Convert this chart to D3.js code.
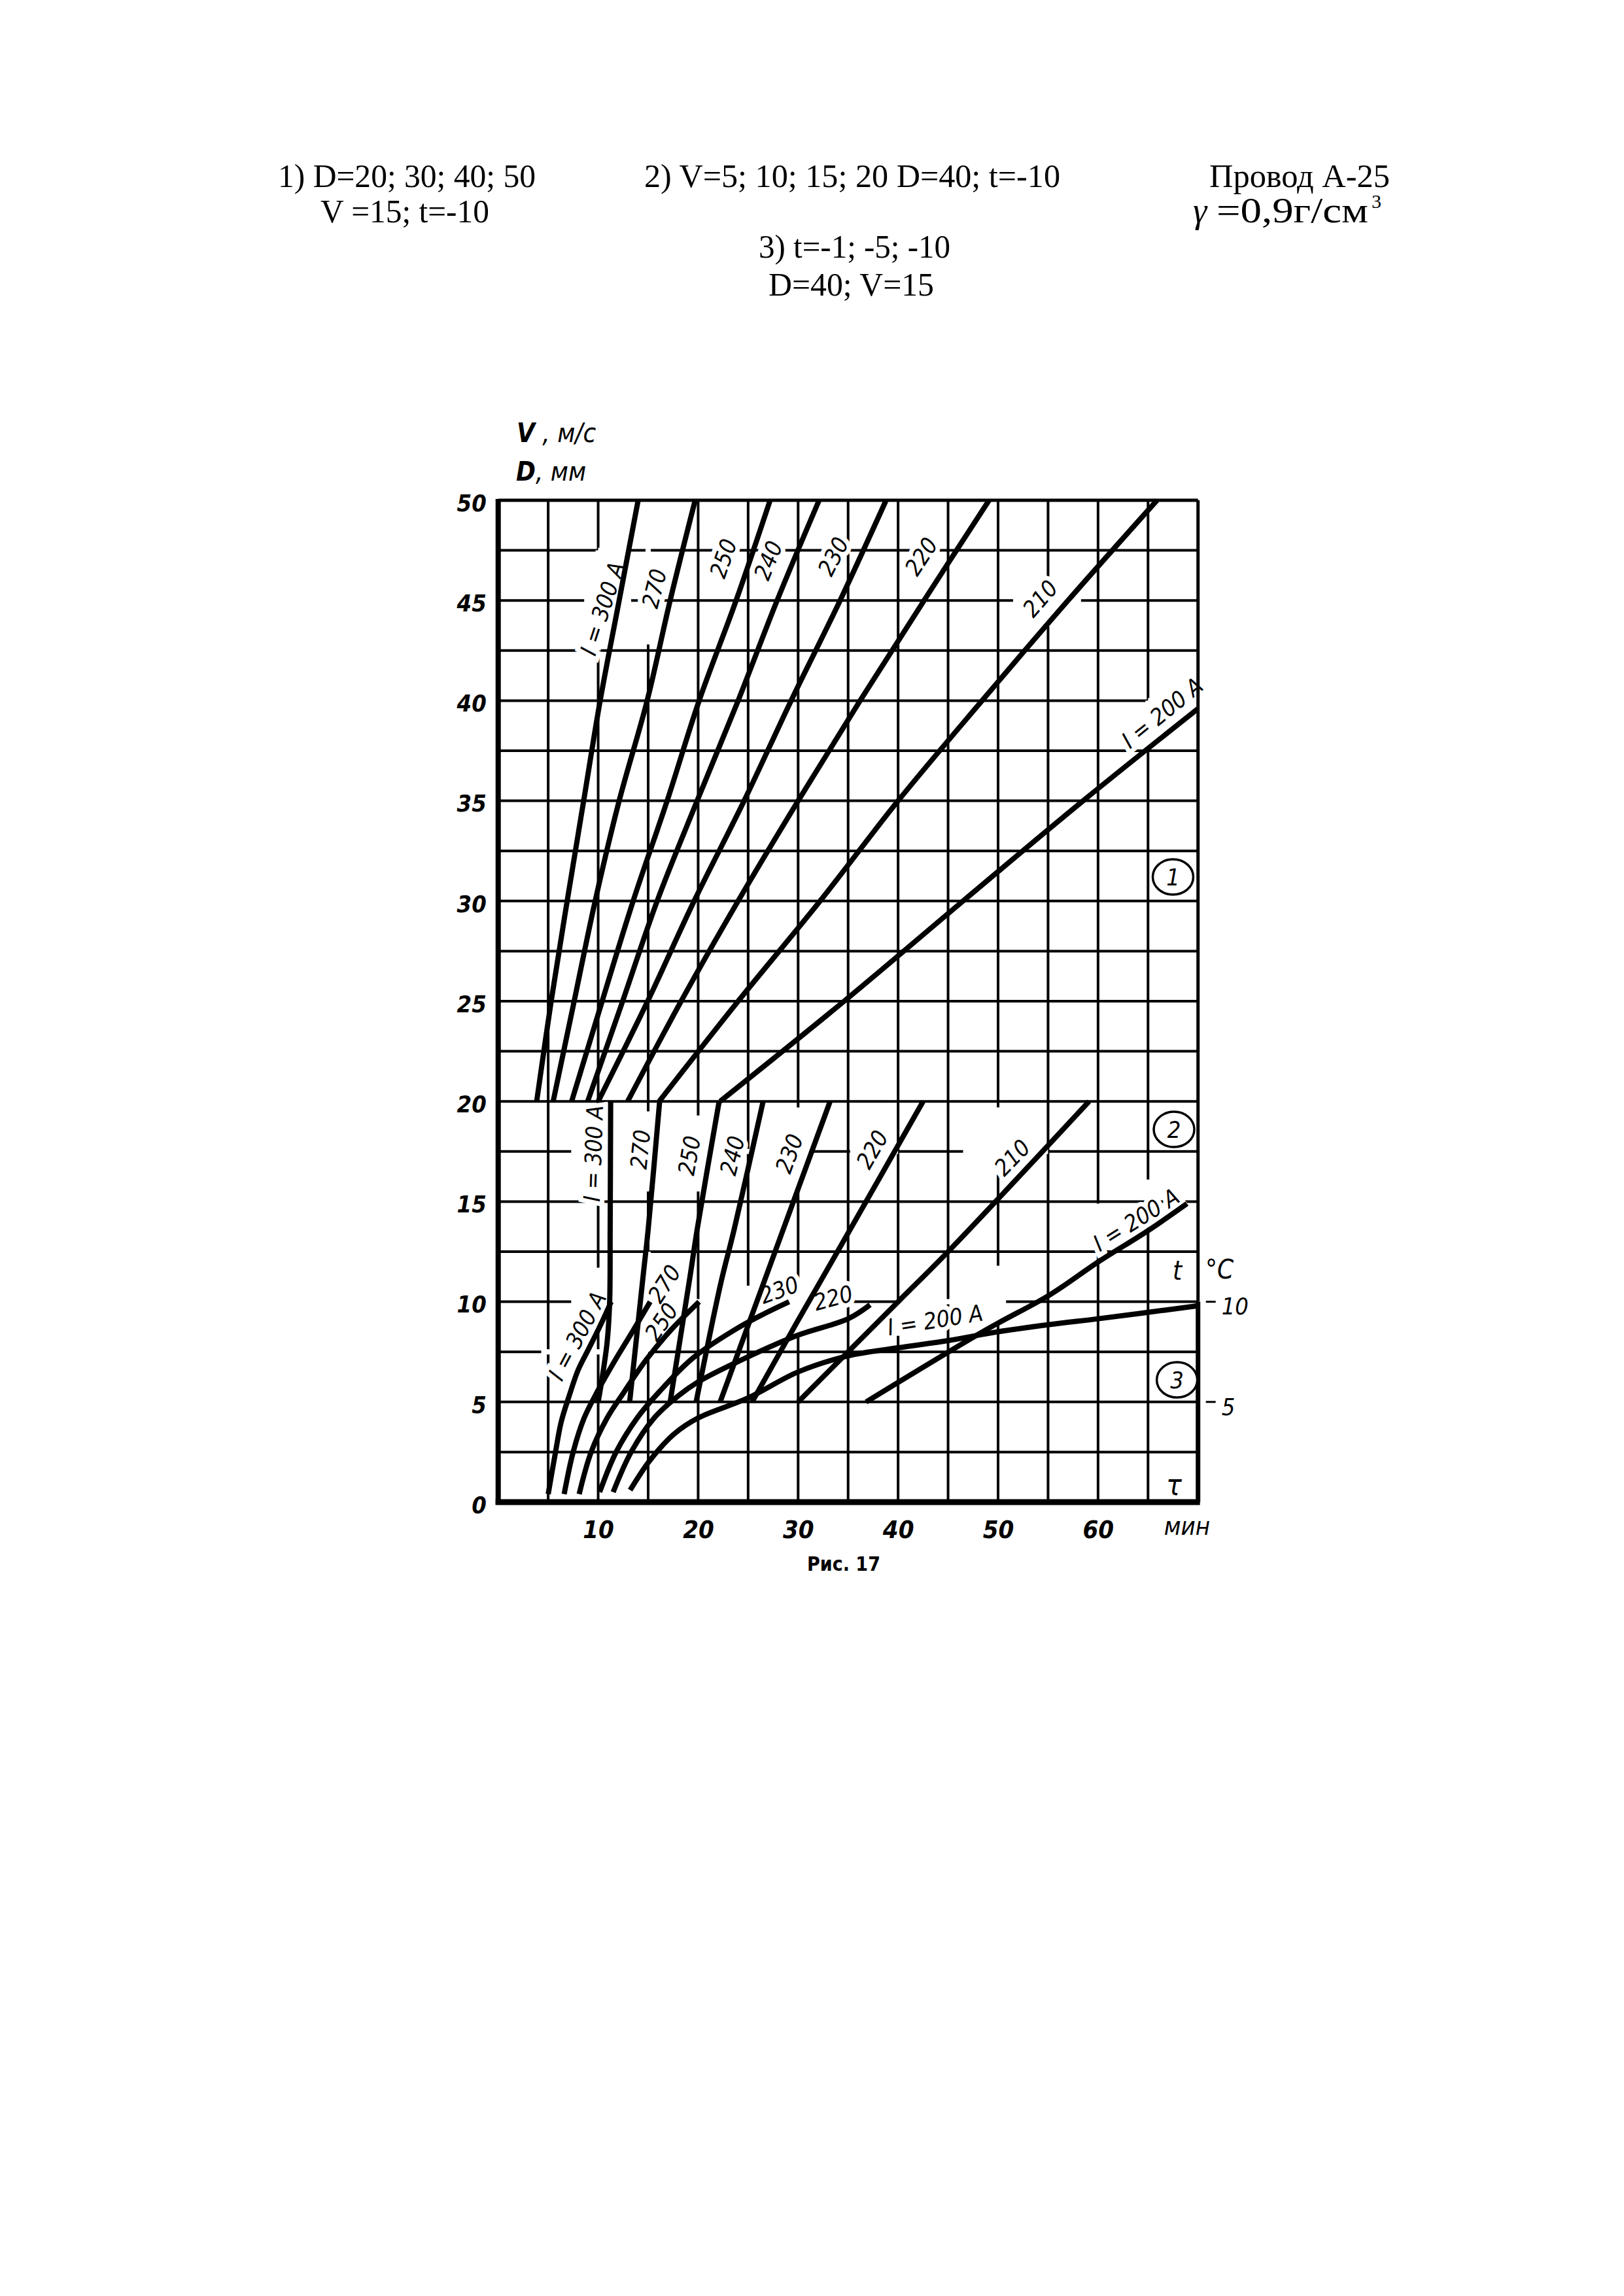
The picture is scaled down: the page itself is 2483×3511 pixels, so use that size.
<!DOCTYPE html>
<html><head><meta charset="utf-8">
<script src="https://cdn.jsdelivr.net/npm/d3@7"></script>
<style>
html,body{margin:0;padding:0;background:#fff;}
svg{display:block;}
</style></head>
<body>
<svg id="chart" width="2483" height="3511"></svg>
<script>
// ---------------- DATA ----------------
const xTicks = [10, 20, 30, 40, 50, 60];
const yTicks = [0, 5, 10, 15, 20, 25, 30, 35, 40, 45, 50];
const tTicks = [10, 5];           // right scale, t = -10, -5 °C
const tTickLabels = ["10", "5"];

// Section 1: D (mm), V=15, t=-10  -> [minutes, D]
const s1_300 = [[3.85,20],[5.3,25],[6.9,30],[8.55,35],[10.2,40],[12.1,45],[14.0,50]];
const s1_270 = [[5.5,20],[7.6,25],[9.7,30],[12.1,35],[14.9,40],[17.2,45],[19.7,50]];
const s1_250 = [[7.35,20],[10.4,25],[13.5,30],[16.9,35],[20.1,40],[23.8,45],[27.2,50]];
const s1_240 = [[8.95,20],[12.45,25],[15.9,30],[19.9,35],[24.0,40],[27.9,45],[32.1,50]];
const s1_230 = [[10.0,20],[14.95,25],[19.6,30],[24.6,35],[29.3,40],[34.2,45],[38.8,50]];
const s1_220 = [[12.95,20],[18.3,25],[24.0,30],[30.0,35],[36.2,40],[42.6,45],[49.1,50]];
const s1_210 = [[16.1,20],[24.0,25],[32.2,30],[40.0,35],[48.4,40],[57.0,45],[65.9,50]];
const s1_200 = [[22.2,20],[34.6,25],[46.5,30],[58.5,35],[70,39.6]];

// Section 2: V (m/s), D=40, t=-10 -> [minutes, V]
const s2_300 = [[10.0,5],[10.4,6.2],[10.9,8],[11.15,10],[11.2,13.6],[11.25,20]];
const s2_270 = [[13.15,5],[14.5,11.3],[15.0,13.6],[16.15,20]];
const s2_250 = [[17.2,5],[19.2,11.3],[19.9,13.6],[22.1,20]];
const s2_240 = [[19.8,5],[22.3,11],[23.6,13.6],[26.5,20]];
const s2_230 = [[22.2,5],[26.6,11],[33.2,20]];
const s2_220 = [[25.4,5],[29.8,8.9],[35.2,13.6],[42.5,20]];
const s2_210 = [[30.0,5],[40,10],[45,12.5],[59.1,20]];
const s2_200 = [[36.8,5],[48.8,8.6],[55.2,10.35],[60,11.98],[65,13.55],[68.9,14.9]];

// Section 3: |t| (°C), D=40, V=15 -> [minutes, |t|]
const s3_300 = [[5.0,0.4],[5.7,2.4],[6.3,4.0],[7.1,5.3],[8.0,6.6],[9.0,7.6],[10.2,8.8],[11.3,10]];
const s3_270 = [[6.6,0.4],[7.5,2.5],[8.6,4.2],[9.9,5.5],[11.6,7.0],[13.3,8.4],[15.2,10]];
const s3_250 = [[8.1,0.4],[9.3,2.5],[10.9,4.2],[12.6,5.5],[14.8,7.1],[17.3,8.6],[20.1,10]];
const s3_230 = [[10.15,0.5],[11.8,2.5],[13.9,4.2],[16.1,5.5],[19.5,7.2],[24.0,8.7],[26.6,9.4],[29.1,10]];
const s3_220 = [[11.5,0.5],[13.3,2.5],[15.6,4.2],[18.0,5.3],[20.0,6.0],[23.5,6.9],[29.8,8.3],[35.0,9.15],[37.2,9.85]];
const s3_200 = [[13.2,0.6],[15.2,2.1],[17.6,3.4],[20,4.2],[25,5.2],[30,6.5],[35,7.3],[40,7.7],[45,8.06],[50,8.5],[55,8.85],[60,9.15],[65,9.47],[70,9.8]];

// curve labels: [text, minute, value, angle]
const curveLabels = [
  ["I = 300 A", 10.4, 44.6, -72], ["270", 15.6, 45.6, -76], ["250", 22.5, 47.1, -71],
  ["240", 27.0, 47.0, -68], ["230", 33.5, 47.2, -63], ["220", 42.3, 47.2, -57],
  ["210", 54.2, 45.1, -49], ["I = 200 A", 66.4, 39.4, -39],
  ["I = 300 A", 9.5, 17.4, -88], ["270", 14.2, 17.6, -84], ["250", 19.1, 17.3, -80],
  ["240", 23.4, 17.3, -76], ["230", 29.1, 17.4, -70], ["220", 37.4, 17.6, -60],
  ["210", 51.4, 17.2, -46], ["I = 200 A", 63.8, 14.1, -32],
  ["I = 300 A", 7.9, 8.3, -62], ["270", 16.6, 10.9, -57], ["250", 16.3, 9.0, -56],
  ["230", 28.1, 10.6, -20], ["220", 33.5, 10.2, -15], ["I = 200 A", 43.7, 9.1, -9]
];
const circleLabels = [["1", 67.5, 31.2], ["2", 67.6, 18.6], ["3", 67.9, 6.1]];

// grid segments erased in the original drawing: [orientation, at, from, to]
const gridGaps = [
  ["v", 10, 42.5, 47.5], ["v", 15, 42.8, 50], ["v", 55, 43.7, 46], ["v", 65, 37.7, 40],
  ["h", 40, 65, 70], ["h", 45, 51.5, 58.3], ["h", 45, 8.6, 13.3], ["h", 47.5, 10, 13],
  ["v", 10, 15.2, 19.6], ["v", 10, 9, 11.7], ["v", 15, 7.5, 12.5], ["v", 15, 15.5, 19.5],
  ["v", 20, 15.5, 19.3], ["v", 25, 9, 10.8], ["v", 30, 8.4, 11.1], ["v", 30, 15.7, 19.7],
  ["v", 40, 8.3, 10], ["v", 50, 9.0, 11.8], ["v", 50, 17, 19.7], ["v", 60, 12.6, 14.9],
  ["v", 65, 13.8, 16.1],
  ["h", 17.5, 7.3, 31.2], ["h", 17.5, 35.2, 40], ["h", 17.5, 46.5, 55],
  ["h", 10, 7.3, 35.5], ["h", 10, 40, 50.8], ["h", 7.5, 4.3, 15]
];

// ---------------- DRAW ----------------
const svg = d3.select("#chart");
const x = d3.scaleLinear().domain([0, 70]).range([761.7, 1831.7]);
const y = d3.scaleLinear().domain([0, 50]).range([2297, 765]);
const FONT = "'DejaVu Sans Condensed','DejaVu Sans',sans-serif";
const SERIF = "'Liberation Serif','Times New Roman',serif";

// titles
const titles = [
  ["1) D=20; 30; 40; 50", 425, 286, 394],
  ["V =15; t=-10", 490, 340, 258],
  ["2) V=5; 10; 15; 20 D=40; t=-10", 985, 286, 636],
  ["Провод А-25", 1849, 286, 276],
  ["3) t=-1; -5; -10", 1160, 394, 293],
  ["D=40; V=15", 1175, 452, 253]
];
svg.selectAll("text.title").data(titles).join("text")
  .attr("class","title").attr("x", d=>d[1]).attr("y", d=>d[2])
  .attr("textLength", d=>d[3]).attr("lengthAdjust","spacingAndGlyphs")
  .style("font-family", SERIF).style("font-size","50px").text(d=>d[0]);
svg.append("text").attr("x",1860).attr("y",340)
  .attr("textLength",232).attr("lengthAdjust","spacingAndGlyphs")
  .style("font-family", SERIF).style("font-size","54px").text("=0,9г/см");
svg.append("text").attr("x",1824).attr("y",340)
  .style("font-family", SERIF).style("font-style","italic").style("font-size","54px").text("γ");
svg.append("text").attr("x",2097).attr("y",318)
  .style("font-family", SERIF).style("font-size","30px").text("3");

// grid
const gridX = d3.range(5, 70, 5);
const gridY = d3.range(2.5, 50, 2.5);
const grid = svg.append("g").attr("stroke","#000").attr("stroke-width",4);
grid.selectAll("line.gx").data(gridX).join("line").attr("class","gx")
  .attr("x1", d=>x(d)).attr("x2", d=>x(d)).attr("y1", y(0)).attr("y2", y(50));
grid.selectAll("line.gy").data(gridY).join("line").attr("class","gy")
  .attr("x1", x(0)).attr("x2", x(70)).attr("y1", d=>y(d)).attr("y2", d=>y(d));
// erased grid pieces
svg.append("g").attr("stroke","#fff").attr("stroke-width",8).selectAll("line").data(gridGaps).join("line")
  .attr("x1", d=>d[0]==="v" ? x(d[1]) : x(d[2])).attr("x2", d=>d[0]==="v" ? x(d[1]) : x(d[3]))
  .attr("y1", d=>d[0]==="v" ? y(d[2]) : y(d[1])).attr("y2", d=>d[0]==="v" ? y(d[3]) : y(d[1]));

// halos behind labels (erase grid around text)
function placeLabel(sel){
  sel.attr("transform", d=>`translate(${x(d[1])},${y(d[2])}) rotate(${d[3]})`)
    .attr("text-anchor","middle").attr("dy","0.36em")
    .style("font-family", FONT).style("font-style","italic")
    .style("font-size","35px").text(d=>d[0]);
}
svg.append("g").selectAll("text").data(curveLabels).join("text")
  .call(placeLabel).attr("fill","#fff").attr("stroke","#fff").attr("stroke-width",14);

// frame
const frame = svg.append("g").attr("stroke","#000").attr("fill","none");
frame.append("line").attr("x1",x(0)).attr("x2",x(0)).attr("y1",y(50)-2).attr("y2",y(0)+4).attr("stroke-width",8);
frame.append("line").attr("x1",x(0)-4).attr("x2",x(70)+3).attr("y1",y(0)).attr("y2",y(0)).attr("stroke-width",9);
frame.append("line").attr("x1",x(0)).attr("x2",x(70)).attr("y1",y(50)).attr("y2",y(50)).attr("stroke-width",5);
frame.append("line").attr("x1",x(70)).attr("x2",x(70)).attr("y1",y(50)).attr("y2",y(10)).attr("stroke-width",5);
frame.append("line").attr("x1",x(70)).attr("x2",x(70)).attr("y1",y(10)).attr("y2",y(0)).attr("stroke-width",7);

// curves
const line = d3.line().x(d=>x(d[0])).y(d=>y(d[1])).curve(d3.curveCatmullRom.alpha(0.5));
const allCurves = [s1_300,s1_270,s1_250,s1_240,s1_230,s1_220,s1_210,s1_200,
  s2_300,s2_270,s2_250,s2_240,s2_230,s2_220,s2_210,s2_200,
  s3_300,s3_270,s3_250,s3_230,s3_220,s3_200];
svg.append("g").selectAll("path").data(allCurves).join("path")
  .attr("d", line).attr("fill","none").attr("stroke","#000")
  .attr("stroke-width",8).attr("stroke-linecap","butt").attr("stroke-linejoin","round");

// labels
svg.append("g").selectAll("text").data(curveLabels).join("text").call(placeLabel).attr("fill","#000");

// circled numbers
const cg = svg.append("g").selectAll("g").data(circleLabels).join("g")
  .attr("transform", d=>`translate(${x(d[1])},${y(d[2])})`);
cg.append("ellipse").attr("rx",31).attr("ry",27).attr("fill","#fff").attr("stroke","#000").attr("stroke-width",3.5);
cg.append("text").attr("text-anchor","middle").attr("dy","0.36em")
  .style("font-family",FONT).style("font-style","italic").style("font-size","36px").text(d=>d[0]);

// y axis labels
const yAxis = d3.axisLeft(y).tickValues(yTicks).tickSize(0).tickPadding(18).tickFormat(d3.format("d"));
const ya = svg.append("g").attr("transform",`translate(${x(0)},0)`).call(yAxis);
ya.select(".domain").remove();
ya.selectAll("text").style("font-family",FONT).style("font-style","italic")
  .style("font-size","36px").style("font-weight","bold").attr("dy","0.45em");

// x axis labels
const xAxis = d3.axisBottom(x).tickValues(xTicks).tickSize(0).tickPadding(28).tickFormat(d3.format("d"));
const xa = svg.append("g").attr("transform",`translate(0,${y(0)})`).call(xAxis);
xa.select(".domain").remove();
xa.selectAll("text").style("font-family",FONT).style("font-style","italic")
  .style("font-size","38px").style("font-weight","bold");
svg.append("text").attr("x",1815).attr("y",2347).attr("text-anchor","middle")
  .style("font-family",FONT).style("font-style","italic").style("font-size","38px").text("мин");

// right t scale
const tg = svg.append("g").selectAll("g").data(tTicks).join("g")
  .attr("transform", d=>`translate(${x(70)},${y(d)})`);
tg.append("line").attr("x1",12).attr("x2",27).attr("stroke","#000").attr("stroke-width",3);
tg.append("text").data(tTickLabels).attr("x",36).attr("dy","0.55em")
  .style("font-family",FONT).style("font-style","italic").style("font-size","36px").text(d=>d);
svg.append("text").attr("x",1800).attr("y",1957).attr("text-anchor","middle")
  .style("font-family",FONT).style("font-style","italic").style("font-size","40px").text("t");
svg.append("text").attr("x",1843).attr("y",1955)
  .style("font-family",FONT).style("font-style","italic").style("font-size","40px").text("°C");
svg.append("text").attr("x",1795).attr("y",2286).attr("text-anchor","middle")
  .style("font-family",FONT).style("font-style","italic").style("font-size","44px").text("τ");

// axis titles
const at1 = svg.append("text").attr("x",790).attr("y",676)
  .style("font-family",FONT).style("font-style","italic").style("font-size","40px");
at1.append("tspan").style("font-weight","bold").text("V");
at1.append("tspan").text(" ,  м/с");
const at2 = svg.append("text").attr("x",789).attr("y",735)
  .style("font-family",FONT).style("font-style","italic").style("font-size","40px");
at2.append("tspan").style("font-weight","bold").text("D");
at2.append("tspan").text(",  мм");

// caption
svg.append("text").attr("x",1290).attr("y",2402).attr("text-anchor","middle")
  .style("font-family",FONT).style("font-weight","bold").style("font-size","30px").text("Рис. 17");
</script>
</body></html>
